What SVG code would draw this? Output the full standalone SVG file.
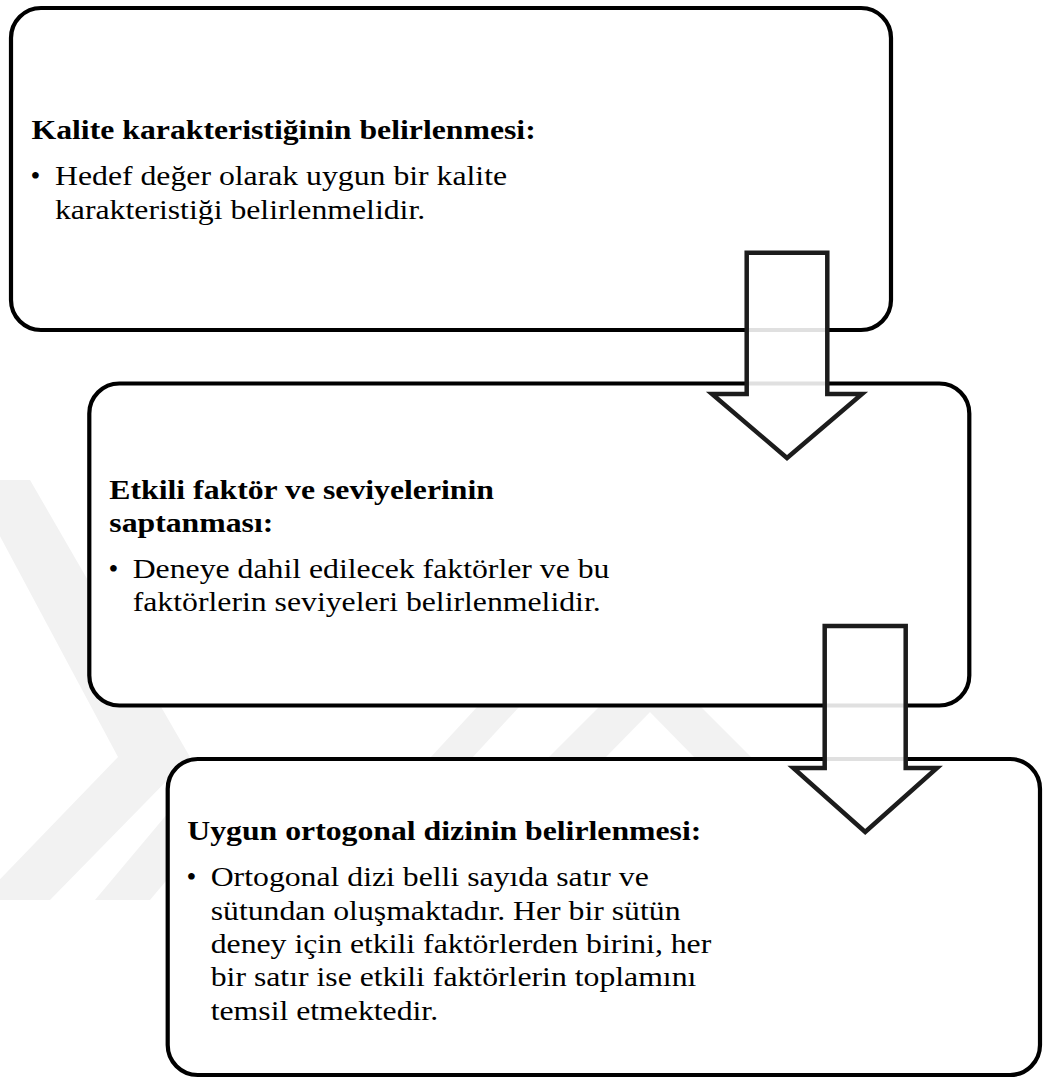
<svg xmlns="http://www.w3.org/2000/svg" width="1047" height="1082" viewBox="0 0 1047 1082">
<style>
.wm{fill:#f2f2f2;stroke:none}
.box{fill:#fff;stroke:#000;stroke-width:4.2}
.arrow{fill:#fff;fill-opacity:0.88;stroke:#1c1c1c;stroke-width:4.5;stroke-linejoin:miter}
</style>
<rect x="0" y="0" width="1047" height="1082" fill="#fff"/>
<g id="watermark">
<polygon class="wm" points="-30,480 30,480 190,757 50,900 -20,900 118,757"/>
<polygon class="wm" points="95,900 150,900 270,757 215,757"/>
<polygon class="wm" points="430,758 472,758 520,706 478,706"/>
<polygon class="wm" points="548,758 600,706 700,706 752,758 695,758 650,712 605,758"/>
</g>
<g id="node1">
<rect class="box" x="11" y="8" width="880" height="322" rx="30" ry="30"/>
<text font-family="Liberation Serif" font-size="28" font-weight="bold" transform="translate(31.5,138.5) scale(1.134,1)">Kalite karakteristiğinin belirlenmesi:</text>
<text font-family="Liberation Serif" font-size="28" x="30.5" y="184.5">•</text>
<text font-family="Liberation Serif" font-size="28" transform="translate(55,184.5) scale(1.134,1)">Hedef değer olarak uygun bir kalite</text>
<text font-family="Liberation Serif" font-size="28" transform="translate(55,218.5) scale(1.134,1)">karakteristiği belirlenmelidir.</text>
</g>
<g id="node2">
<rect class="box" x="89.3" y="383.5" width="880" height="322" rx="30" ry="30"/>
<text font-family="Liberation Serif" font-size="28" font-weight="bold" transform="translate(109.3,498.5) scale(1.134,1)">Etkili faktör ve seviyelerinin</text>
<text font-family="Liberation Serif" font-size="28" font-weight="bold" transform="translate(109.3,531.5) scale(1.134,1)">saptanması:</text>
<text font-family="Liberation Serif" font-size="28" x="108.5" y="577.5">•</text>
<text font-family="Liberation Serif" font-size="28" transform="translate(132.7,577.5) scale(1.134,1)">Deneye dahil edilecek faktörler ve bu</text>
<text font-family="Liberation Serif" font-size="28" transform="translate(132.7,611) scale(1.134,1)">faktörlerin seviyeleri belirlenmelidir.</text>
</g>
<g id="node3">
<rect class="box" x="167.7" y="759" width="872.3" height="316" rx="30" ry="30"/>
<text font-family="Liberation Serif" font-size="28" font-weight="bold" transform="translate(187.3,840) scale(1.134,1)">Uygun ortogonal dizinin belirlenmesi:</text>
<text font-family="Liberation Serif" font-size="28" x="186.5" y="886">•</text>
<text font-family="Liberation Serif" font-size="28" transform="translate(210.7,886) scale(1.134,1)">Ortogonal dizi belli sayıda satır ve</text>
<text font-family="Liberation Serif" font-size="28" transform="translate(210.7,919.5) scale(1.134,1)">sütundan oluşmaktadır. Her bir sütün</text>
<text font-family="Liberation Serif" font-size="28" transform="translate(210.7,953) scale(1.134,1)">deney için etkili faktörlerden birini, her</text>
<text font-family="Liberation Serif" font-size="28" transform="translate(210.7,986) scale(1.134,1)">bir satır ise etkili faktörlerin toplamını</text>
<text font-family="Liberation Serif" font-size="28" transform="translate(210.7,1019.5) scale(1.134,1)">temsil etmektedir.</text>
</g>
<g id="connectors">
<polygon class="arrow" points="746.7,252.7 827.3,252.7 827.3,394 862,394 787,458 712,394 746.7,394"/>
<polygon class="arrow" points="824.7,626 905.7,626 905.7,768 937,768 865.2,832 793.3,768 824.7,768"/>
</g>
</svg>
